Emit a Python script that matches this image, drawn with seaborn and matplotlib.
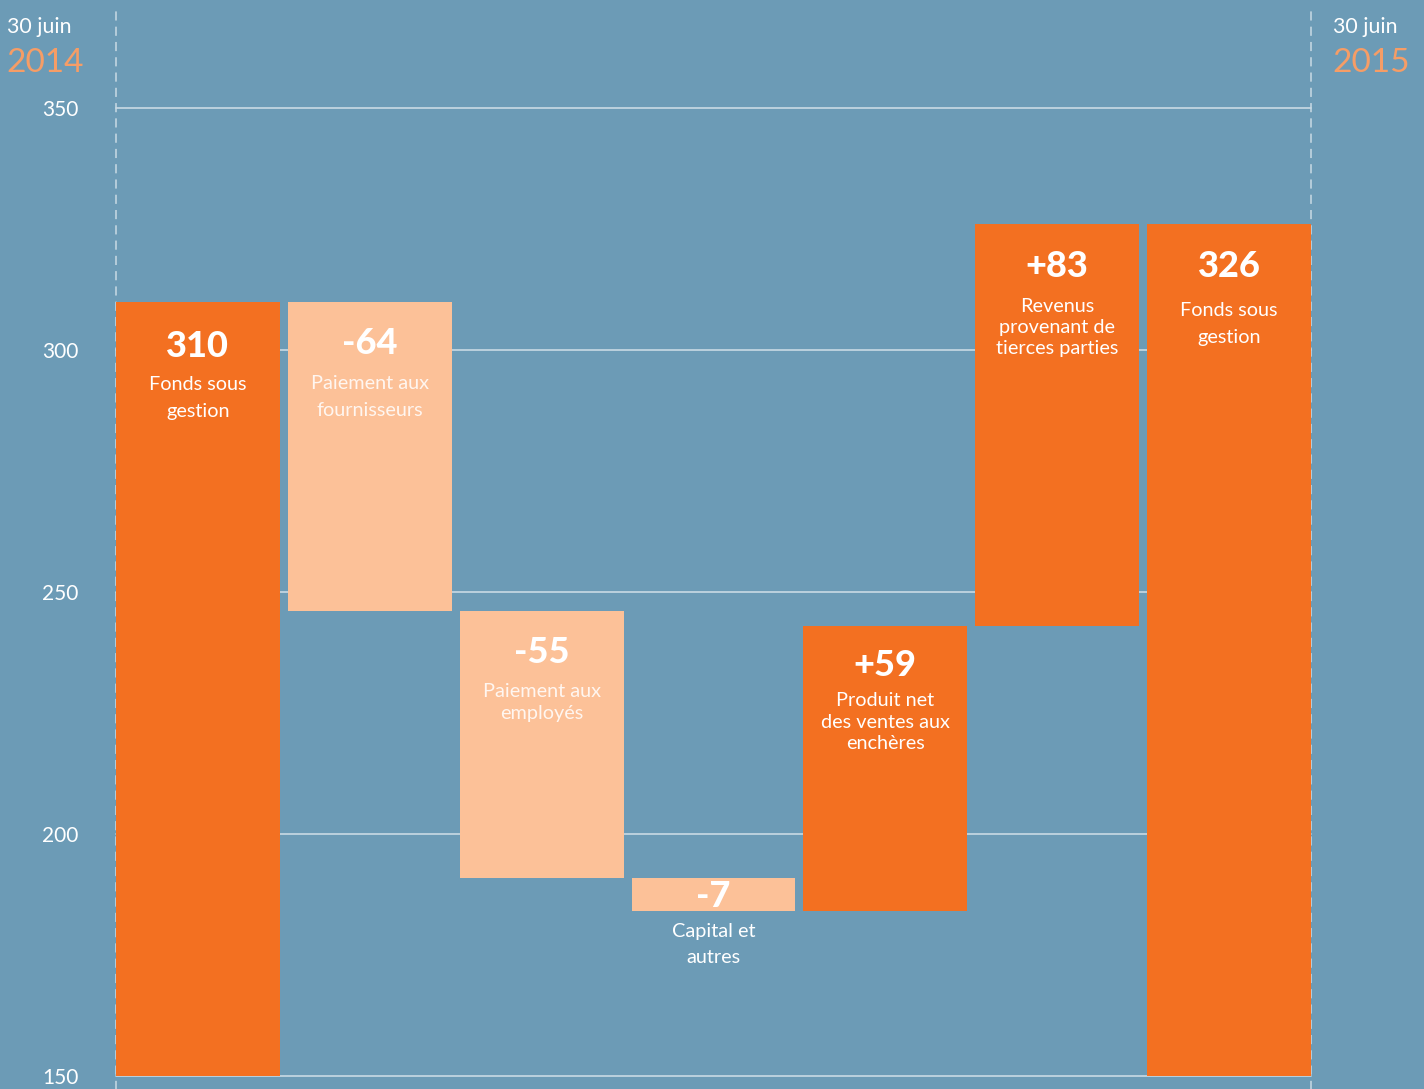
import matplotlib
matplotlib.use("Agg")
import matplotlib.pyplot as plt
import seaborn as sns
import pandas as pd

# ---- data ----
categories = ["Fonds 2014", "Fournisseurs", "Employés", "Capital", "Enchères", "Tiers", "Fonds 2015"]
values = [310, -64, -55, -7, 59, 83, 326]
kinds = ["total", "delta", "delta", "delta", "delta", "delta", "total"]
value_labels = ["310", "-64", "-55", "-7", "+59", "+83", "326"]
descriptions = [
    ["Fonds sous", "gestion"],
    ["Paiement aux", "fournisseurs"],
    ["Paiement aux", "employés"],
    ["Capital et", "autres"],
    ["Produit net", "des ventes aux", "enchères"],
    ["Revenus", "provenant de", "tierces parties"],
    ["Fonds sous", "gestion"],
]
y_ticks = [150, 200, 250, 300, 350]
date_label = "30 juin"
year_start = "2014"
year_end = "2015"

# ---- compute waterfall geometry from data ----
bottoms, heights = [], []
running = 0
for v, k in zip(values, kinds):
    if k == "total":
        bottoms.append(y_ticks[0])
        heights.append(v - y_ticks[0])
        running = v
    else:
        new = running + v
        bottoms.append(min(running, new))
        heights.append(abs(v))
        running = new
tops = [b + h for b, h in zip(bottoms, heights)]

# ---- styles ----
BG = "#6c9bb6"
ORANGE = "#f37021"
LIGHT = "#fcc198"
GRID = "#c9dae4"
YEAR = "#f69d66"
bar_colors = [ORANGE, LIGHT, LIGHT, LIGHT, ORANGE, ORANGE, ORANGE]
text_colors = ["white", "#fff6f0", "#fff6f0", "white", "white", "white", "white"]
# (value offset px below top, first line px below top, line spacing px, below-bar?)
label_style = [
    (45, 83, 27, False),
    (42, 82, 27, False),
    (41, 80, 22, False),
    (19, 20, 26, True),
    (40, 75, 21.5, False),
    (42, 82, 21, False),
    (42, 86, 27, False),
]

sns.set_theme(style="white")
plt.rcParams["font.family"] = ["Lato", "DejaVu Sans"]

W, H = 1424, 1089
fig = plt.figure(figsize=(W / 100, H / 100), dpi=100)
fig.patch.set_facecolor(BG)

ax_left, ax_right = 116 / W, 1311 / W
ax_bottom, ax_top = 1 - 1076 / H, 1 - 108 / H
ax = fig.add_axes([ax_left, ax_bottom, ax_right - ax_left, ax_top - ax_bottom])
ax.set_facecolor(BG)

for i in range(len(categories)):
    sns.barplot(x=[categories[i]], y=[heights[i]], bottom=bottoms[i],
                order=categories, color=bar_colors[i], saturation=1,
                width=0.953, ax=ax, zorder=3, linewidth=0)

ax.set_xlim(-0.4765, len(categories) - 1 + 0.4765)
ax.set_ylim(y_ticks[0], y_ticks[-1])
ax.set_yticks(y_ticks)
ax.set_yticklabels([str(t) for t in y_ticks], color="white", fontsize=15)
ax.tick_params(axis="y", length=0, pad=27)
for lbl in ax.get_yticklabels():
    lbl.set_y(lbl.get_position()[1])
ax.set_xticks([])
ax.set_xlabel("")
ax.set_ylabel("")
for s in ax.spines.values():
    s.set_visible(False)
for t in y_ticks:
    ax.axhline(t, color=GRID, lw=1.2, zorder=1, clip_on=False)

# dashed verticals extending beyond the axes
px = 0.72
for xv in [ax.get_xlim()[0], ax.get_xlim()[1]]:
    ax.plot([xv, xv], [-0.014, 1.10], transform=ax.get_xaxis_transform(),
            color=GRID, lw=1.1, ls=(0, (6, 4)), clip_on=False, zorder=2)

# labels
for i in range(len(categories)):
    voff, loff, lsp, below = label_style[i]
    top = tops[i]
    ax.annotate(value_labels[i], xy=(i, top), xytext=(0, -voff * px),
                textcoords="offset points", ha="center", va="center",
                fontsize=26, fontweight="black", color="white", zorder=5)
    anchor = bottoms[i] if below else top
    for j, line in enumerate(descriptions[i]):
        ax.annotate(line, xy=(i, anchor), xytext=(0, -(loff + j * lsp) * px),
                    textcoords="offset points", ha="center", va="center",
                    fontsize=14.3, color=text_colors[i], zorder=5)

# date headers
fig.text(7 / W, 1 - 27 / H, date_label, color="white", fontsize=15.3, va="center", ha="left")
fig.text(6 / W, 1 - 63 / H, year_start, color=YEAR, fontsize=24, va="center", ha="left")
fig.text(1333 / W, 1 - 27 / H, date_label, color="white", fontsize=15.3, va="center", ha="left")
fig.text(1332 / W, 1 - 63 / H, year_end, color=YEAR, fontsize=24, va="center", ha="left")

fig.savefig("out.png", dpi=100, facecolor=BG)
